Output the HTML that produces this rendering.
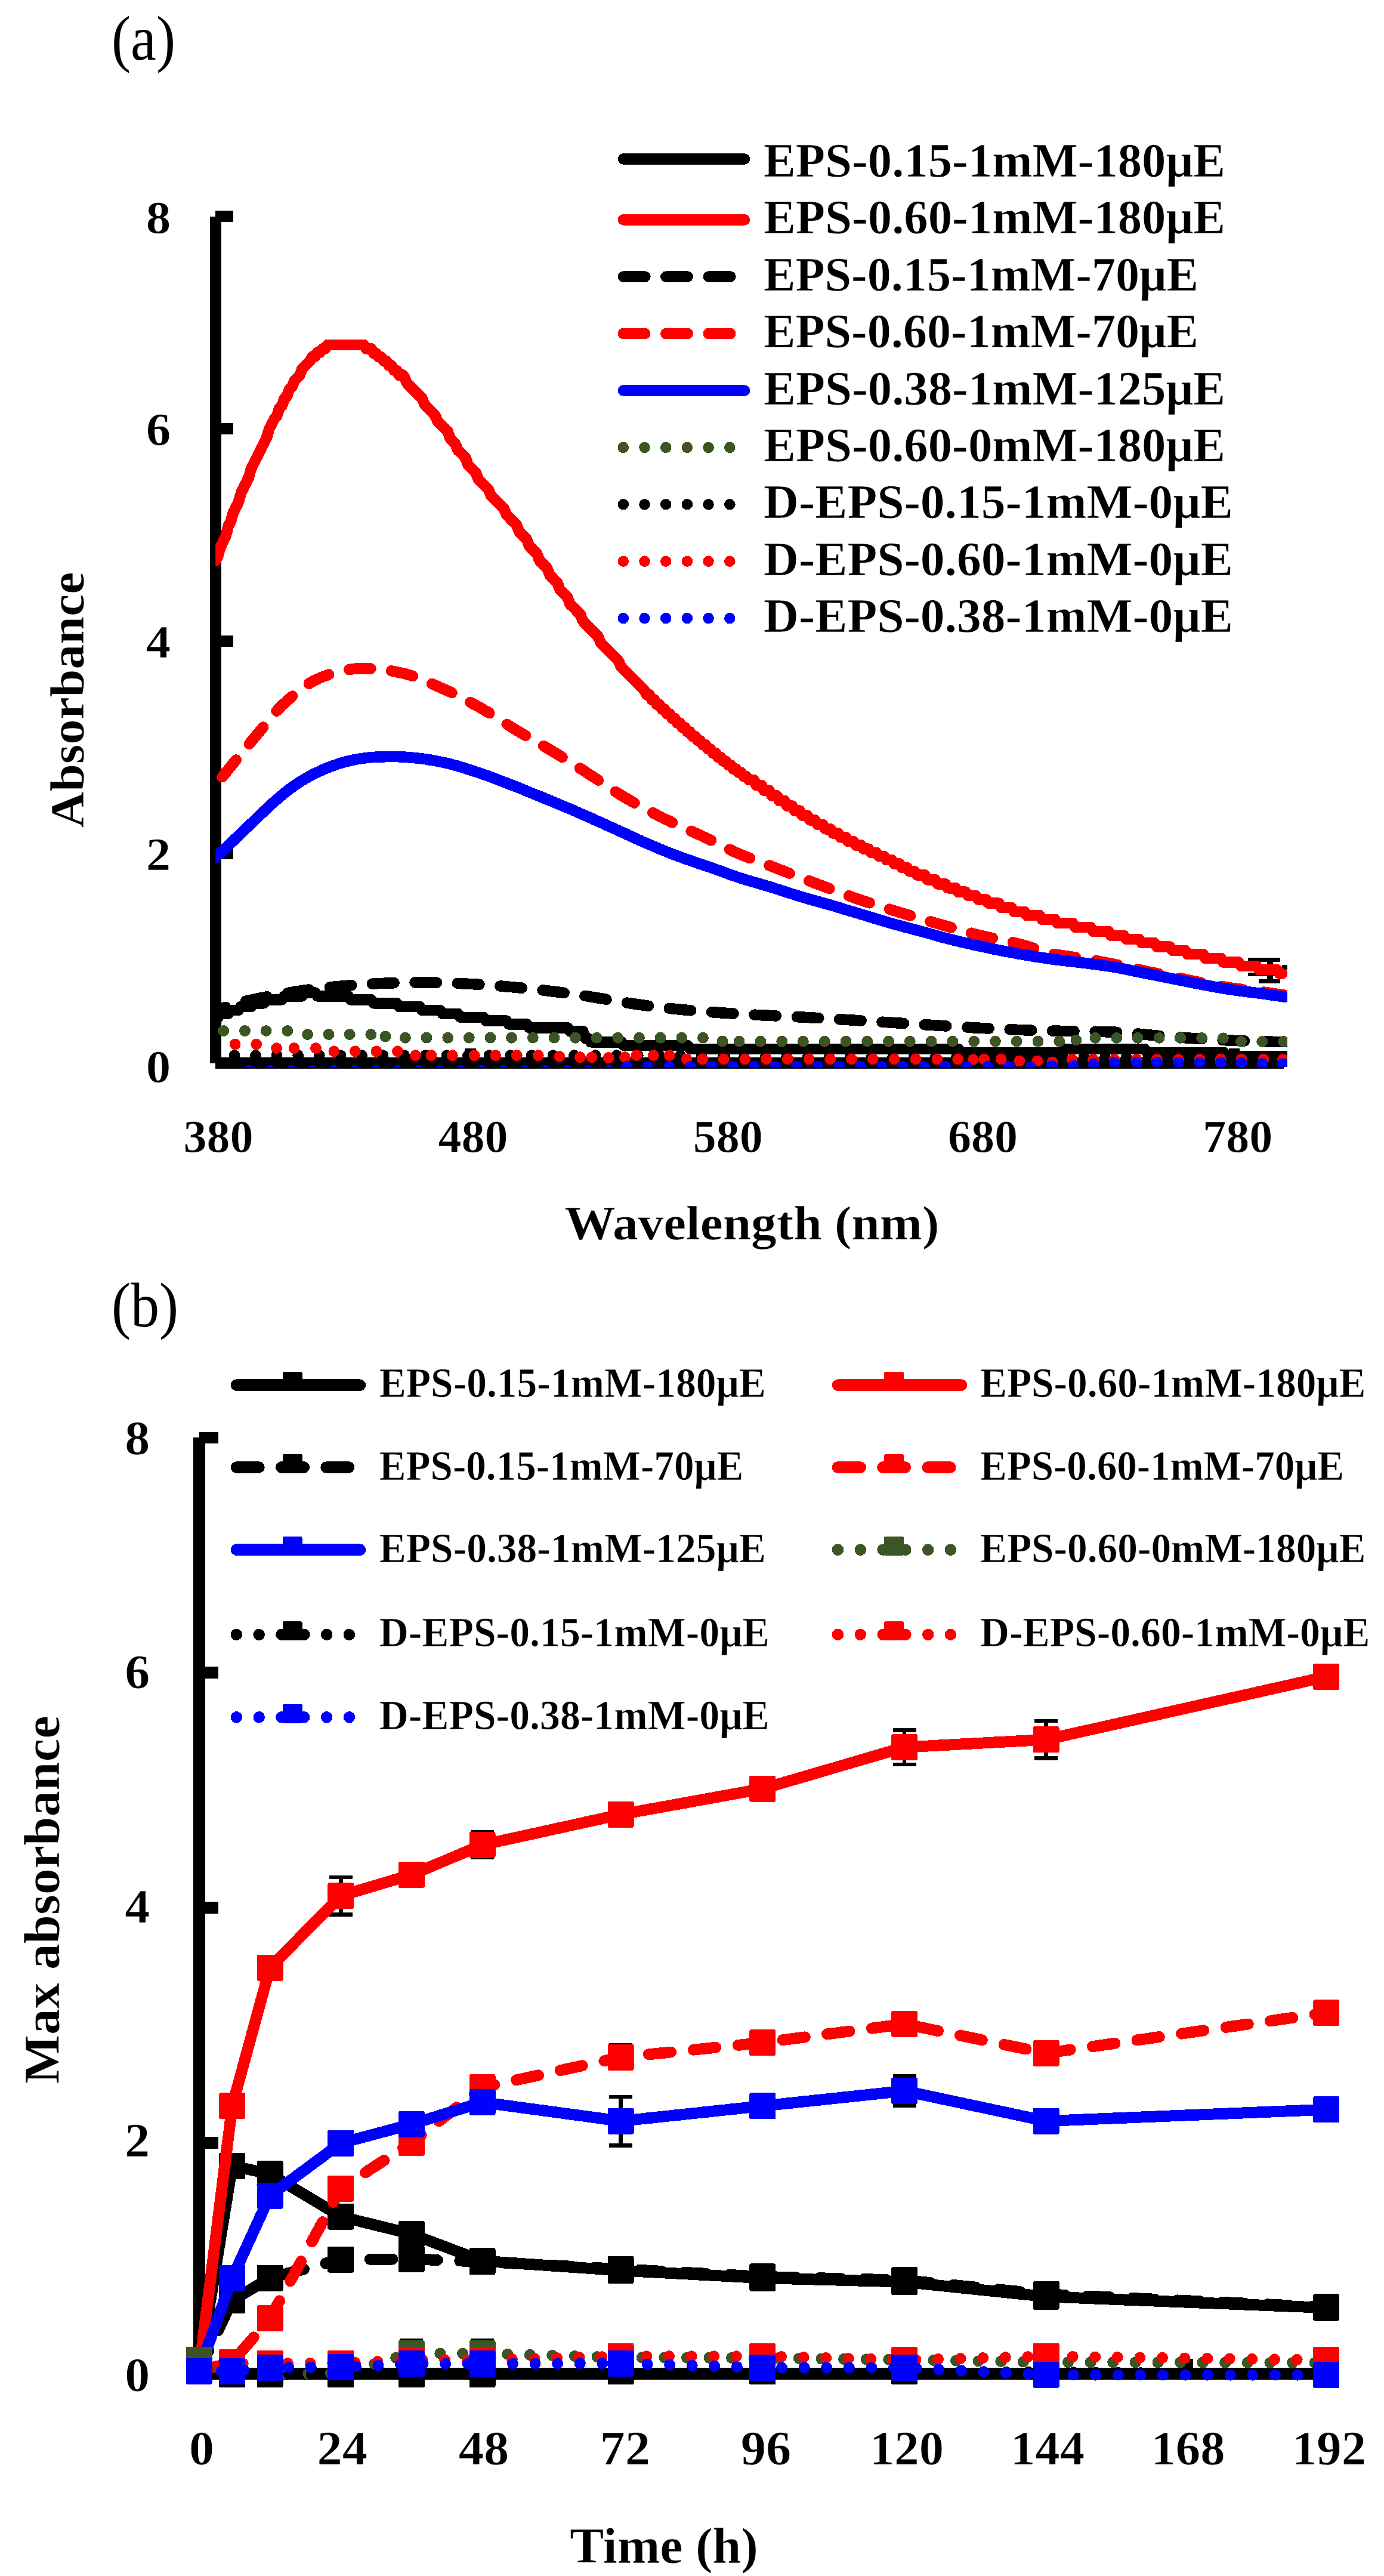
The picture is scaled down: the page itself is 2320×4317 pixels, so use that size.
<!DOCTYPE html>
<html><head><meta charset="utf-8"><title>Figure</title>
<style>html,body{margin:0;padding:0;background:#fff}svg{display:block}text{font-family:"Liberation Serif", "DejaVu Serif", serif;fill:#000}text[font-weight=bold]{stroke:#fff;stroke-width:0.6px;stroke-linejoin:round}</style>
</head><body>
<svg width="2320" height="4317" viewBox="0 0 2320 4317" shape-rendering="crispEdges">
<rect width="2320" height="4317" fill="#fff"/>
<defs><clipPath id="ca"><rect x="361.2" y="300" width="1796.8" height="1488.0"/></clipPath>
<clipPath id="cb"><rect x="300" y="2300" width="1980" height="1720"/></clipPath></defs>
<g stroke="#000" stroke-width="18.6" fill="none">
<path d="M361.3 362.6 V1781.6"/>
<path d="M361.3 1781.6 H2152"/>
<path d="M361.3 362.6 H391"/>
<path d="M361.3 718.6 H391"/>
<path d="M361.3 1074.6 H391"/>
<path d="M361.3 1430.6 H391"/>
<path d="M788.2 1781.6 V1757.3"/>
<path d="M1215.1 1781.6 V1757.3"/>
<path d="M1642.0 1781.6 V1757.3"/>
<path d="M2068.9 1781.6 V1757.3"/>
</g>
<g clip-path="url(#ca)" fill="none" stroke-linejoin="round" stroke-linecap="round">
<path stroke="#000000" stroke-width="18.6" d="M361.0 1704.8 L365.3 1704.8 L369.6 1698.9 L373.8 1698.9 L378.1 1698.9 L382.4 1698.9 L386.7 1693.0 L391.0 1693.0 L395.2 1693.0 L399.5 1693.0 L403.8 1687.1 L408.1 1687.1 L412.4 1687.1 L416.6 1687.1 L420.9 1687.1 L425.2 1681.2 L429.5 1681.2 L433.8 1681.2 L438.0 1681.2 L442.3 1681.2 L446.6 1675.3 L450.9 1675.3 L455.2 1675.3 L459.4 1675.3 L463.7 1675.3 L468.0 1675.3 L472.3 1675.3 L476.6 1669.4 L480.8 1669.4 L485.1 1669.4 L489.4 1669.4 L493.7 1669.4 L498.0 1669.4 L502.2 1669.4 L506.5 1669.4 L510.8 1663.5 L515.1 1663.5 L519.4 1663.5 L523.6 1663.5 L527.9 1663.5 L532.2 1669.4 L536.5 1669.4 L540.8 1669.4 L545.0 1669.4 L549.3 1669.4 L553.6 1669.4 L557.9 1669.4 L562.2 1669.4 L566.4 1669.4 L570.7 1669.4 L575.0 1669.4 L579.3 1669.4 L583.6 1669.4 L587.8 1675.3 L592.1 1675.3 L596.4 1675.3 L600.7 1675.3 L605.0 1675.3 L609.2 1675.3 L613.5 1675.3 L617.8 1675.3 L622.1 1675.3 L626.4 1681.2 L630.6 1681.2 L634.9 1681.2 L639.2 1681.2 L643.5 1681.2 L647.8 1681.2 L652.0 1681.2 L656.3 1681.2 L660.6 1681.2 L664.9 1681.2 L669.2 1687.1 L673.4 1687.1 L677.7 1687.1 L682.0 1687.1 L686.3 1687.1 L690.6 1687.1 L694.8 1687.1 L699.1 1687.1 L703.4 1687.1 L707.7 1693.0 L712.0 1693.0 L716.2 1693.0 L720.5 1693.0 L724.8 1693.0 L729.1 1693.0 L733.4 1693.0 L737.6 1693.0 L741.9 1698.9 L746.2 1698.9 L750.5 1698.9 L754.8 1698.9 L759.0 1698.9 L763.3 1698.9 L767.6 1698.9 L771.9 1704.8 L776.2 1704.8 L780.4 1704.8 L784.7 1704.8 L789.0 1704.8 L793.3 1704.8 L797.6 1704.8 L801.8 1704.8 L806.1 1704.8 L810.4 1704.8 L814.7 1710.7 L819.0 1710.7 L823.2 1710.7 L827.5 1710.7 L831.8 1710.7 L836.1 1710.7 L840.4 1710.7 L844.6 1710.7 L848.9 1710.7 L853.2 1716.6 L857.5 1716.6 L861.8 1716.6 L866.0 1716.6 L870.3 1716.6 L874.6 1716.6 L878.9 1716.6 L883.2 1716.6 L887.4 1722.5 L891.7 1722.5 L896.0 1722.5 L900.3 1722.5 L904.6 1722.5 L908.8 1722.5 L913.1 1722.5 L917.4 1722.5 L921.7 1722.5 L926.0 1722.5 L930.2 1722.5 L934.5 1722.5 L938.8 1722.5 L943.1 1722.5 L947.4 1722.5 L951.6 1722.5 L955.9 1728.4 L960.2 1728.4 L964.5 1728.4 L968.8 1728.4 L973.0 1728.4 L977.3 1728.4 L981.6 1740.3 L985.9 1740.3 L990.2 1746.2 L994.4 1746.2 L998.7 1746.2 L1003.0 1746.2 L1007.3 1746.2 L1011.6 1746.2 L1015.8 1746.2 L1020.1 1746.2 L1024.4 1746.2 L1028.7 1746.2 L1033.0 1746.2 L1037.2 1746.2 L1041.5 1746.2 L1045.8 1752.1 L1050.1 1752.1 L1054.4 1752.1 L1058.6 1752.1 L1062.9 1752.1 L1067.2 1752.1 L1071.5 1752.1 L1075.8 1752.1 L1080.0 1752.1 L1084.3 1752.1 L1088.6 1752.1 L1092.9 1752.1 L1097.2 1752.1 L1101.4 1752.1 L1105.7 1752.1 L1110.0 1752.1 L1114.3 1752.1 L1118.6 1752.1 L1122.8 1752.1 L1127.1 1752.1 L1131.4 1752.1 L1135.7 1752.1 L1140.0 1752.1 L1144.2 1752.1 L1148.5 1752.1 L1152.8 1752.1 L1157.1 1758.0 L1161.4 1758.0 L1165.6 1758.0 L1169.9 1758.0 L1174.2 1758.0 L1178.5 1758.0 L1182.8 1758.0 L1187.0 1758.0 L1191.3 1758.0 L1195.6 1758.0 L1199.9 1758.0 L1204.2 1758.0 L1208.4 1758.0 L1212.7 1758.0 L1217.0 1758.0 L1221.3 1758.0 L1225.6 1758.0 L1229.8 1758.0 L1234.1 1758.0 L1238.4 1758.0 L1242.7 1758.0 L1247.0 1758.0 L1251.2 1758.0 L1255.5 1758.0 L1259.8 1758.0 L1264.1 1758.0 L1268.4 1758.0 L1272.6 1758.0 L1276.9 1758.0 L1281.2 1758.0 L1285.5 1758.0 L1289.8 1758.0 L1294.0 1758.0 L1298.3 1758.0 L1302.6 1758.0 L1306.9 1758.0 L1311.2 1758.0 L1315.4 1758.0 L1319.7 1758.0 L1324.0 1758.0 L1328.3 1758.0 L1332.6 1758.0 L1336.8 1758.0 L1341.1 1758.0 L1345.4 1758.0 L1349.7 1758.0 L1354.0 1758.0 L1358.2 1758.0 L1362.5 1758.0 L1366.8 1758.0 L1371.1 1758.0 L1375.4 1758.0 L1379.6 1758.0 L1383.9 1758.0 L1388.2 1758.0 L1392.5 1758.0 L1396.8 1758.0 L1401.0 1758.0 L1405.3 1758.0 L1409.6 1758.0 L1413.9 1758.0 L1418.2 1758.0 L1422.4 1758.0 L1426.7 1758.0 L1431.0 1758.0 L1435.3 1758.0 L1439.6 1758.0 L1443.8 1758.0 L1448.1 1758.0 L1452.4 1758.0 L1456.7 1758.0 L1461.0 1758.0 L1465.2 1758.0 L1469.5 1758.0 L1473.8 1758.0 L1478.1 1758.0 L1482.4 1758.0 L1486.6 1758.0 L1490.9 1758.0 L1495.2 1758.0 L1499.5 1758.0 L1503.8 1758.0 L1508.0 1758.0 L1512.3 1758.0 L1516.6 1758.0 L1520.9 1758.0 L1525.2 1758.0 L1529.4 1758.0 L1533.7 1758.0 L1538.0 1758.0 L1542.3 1758.0 L1546.6 1758.0 L1550.8 1758.0 L1555.1 1758.0 L1559.4 1758.0 L1563.7 1758.0 L1568.0 1758.0 L1572.2 1758.0 L1576.5 1758.0 L1580.8 1758.0 L1585.1 1758.0 L1589.4 1758.0 L1593.6 1758.0 L1597.9 1758.0 L1602.2 1758.0 L1606.5 1758.0 L1610.8 1763.9 L1615.0 1763.9 L1619.3 1763.9 L1623.6 1763.9 L1627.9 1763.9 L1632.2 1763.9 L1636.4 1763.9 L1640.7 1763.9 L1645.0 1763.9 L1649.3 1763.9 L1653.6 1763.9 L1657.8 1763.9 L1662.1 1763.9 L1666.4 1763.9 L1670.7 1763.9 L1675.0 1763.9 L1679.2 1763.9 L1683.5 1763.9 L1687.8 1763.9 L1692.1 1763.9 L1696.4 1763.9 L1700.6 1763.9 L1704.9 1763.9 L1709.2 1763.9 L1713.5 1763.9 L1717.8 1763.9 L1722.0 1763.9 L1726.3 1763.9 L1730.6 1763.9 L1734.9 1763.9 L1739.2 1763.9 L1743.4 1763.9 L1747.7 1763.9 L1752.0 1763.9 L1756.3 1763.9 L1760.6 1763.9 L1764.8 1763.9 L1769.1 1763.9 L1773.4 1763.9 L1777.7 1763.9 L1782.0 1763.9 L1786.2 1758.0 L1790.5 1758.0 L1794.8 1758.0 L1799.1 1758.0 L1803.4 1758.0 L1807.6 1758.0 L1811.9 1758.0 L1816.2 1758.0 L1820.5 1758.0 L1824.8 1758.0 L1829.0 1758.0 L1833.3 1758.0 L1837.6 1758.0 L1841.9 1758.0 L1846.2 1758.0 L1850.4 1758.0 L1854.7 1758.0 L1859.0 1758.0 L1863.3 1758.0 L1867.6 1758.0 L1871.8 1758.0 L1876.1 1758.0 L1880.4 1758.0 L1884.7 1758.0 L1889.0 1758.0 L1893.2 1758.0 L1897.5 1758.0 L1901.8 1758.0 L1906.1 1758.0 L1910.4 1758.0 L1914.6 1758.0 L1918.9 1758.0 L1923.2 1763.9 L1927.5 1763.9 L1931.8 1763.9 L1936.0 1763.9 L1940.3 1763.9 L1944.6 1763.9 L1948.9 1763.9 L1953.2 1763.9 L1957.4 1763.9 L1961.7 1763.9 L1966.0 1763.9 L1970.3 1763.9 L1974.6 1763.9 L1978.8 1763.9 L1983.1 1763.9 L1987.4 1763.9 L1991.7 1763.9 L1996.0 1763.9 L2000.2 1763.9 L2004.5 1763.9 L2008.8 1763.9 L2013.1 1763.9 L2017.4 1763.9 L2021.6 1763.9 L2025.9 1763.9 L2030.2 1763.9 L2034.5 1763.9 L2038.8 1763.9 L2043.0 1763.9 L2047.3 1763.9 L2051.6 1763.9 L2055.9 1769.8 L2060.2 1769.8 L2064.4 1769.8 L2068.7 1769.8 L2073.0 1769.8 L2077.3 1769.8 L2081.6 1769.8 L2085.8 1769.8 L2090.1 1769.8 L2094.4 1769.8 L2098.7 1769.8 L2103.0 1769.8 L2107.2 1769.8 L2111.5 1769.8 L2115.8 1769.8 L2120.1 1769.8 L2124.4 1769.8 L2128.6 1769.8 L2132.9 1769.8 L2137.2 1769.8 L2141.5 1769.8 L2145.8 1769.8 L2153.0 1769.8"/>
<path stroke="#ff0000" stroke-width="18.6" d="M361.2 939.5 L365.5 931.0 L369.8 916.2 L374.0 907.6 L378.3 899.0 L382.6 881.9 L386.9 873.4 L391.1 858.6 L395.4 850.1 L399.7 841.5 L404.0 826.3 L408.2 817.8 L412.5 809.2 L416.8 800.7 L421.1 785.5 L425.4 776.9 L429.6 768.4 L433.9 759.8 L438.2 751.3 L442.5 742.7 L446.7 734.2 L451.0 719.4 L455.3 710.8 L459.6 702.3 L463.8 698.0 L468.1 684.6 L472.4 680.3 L476.7 668.2 L481.0 663.9 L485.2 652.2 L489.5 648.0 L493.8 637.5 L498.1 633.2 L502.3 629.0 L506.6 617.8 L510.9 613.5 L515.2 609.3 L519.4 605.0 L523.7 597.5 L528.0 597.5 L532.3 590.6 L536.6 590.6 L540.8 584.4 L545.1 584.4 L549.4 577.8 L553.7 577.8 L557.9 577.8 L562.2 577.8 L566.5 577.8 L570.8 577.8 L575.0 577.8 L579.3 577.8 L583.6 577.8 L587.9 577.8 L592.2 577.8 L596.4 577.8 L600.7 577.8 L605.0 577.8 L609.3 577.8 L613.5 584.2 L617.8 584.2 L622.1 584.2 L626.4 592.2 L630.7 592.2 L634.9 598.3 L639.2 598.3 L643.5 605.0 L647.8 605.0 L652.0 612.5 L656.3 612.5 L660.6 620.7 L664.9 620.7 L669.1 629.1 L673.4 627.4 L677.7 631.6 L682.0 642.0 L686.3 646.2 L690.5 650.5 L694.8 654.8 L699.1 659.1 L703.4 663.3 L707.6 667.6 L711.9 678.2 L716.2 682.5 L720.5 686.7 L724.7 691.0 L729.0 695.3 L733.3 705.7 L737.6 710.0 L741.9 714.2 L746.1 718.5 L750.4 722.8 L754.7 735.0 L759.0 739.3 L763.2 743.6 L767.5 754.4 L771.8 758.6 L776.1 762.9 L780.3 767.2 L784.6 779.2 L788.9 783.5 L793.2 787.7 L797.5 792.0 L801.7 803.0 L806.0 807.3 L810.3 811.6 L814.6 815.9 L818.8 820.1 L823.1 830.5 L827.4 834.8 L831.7 839.0 L835.9 843.3 L840.2 847.6 L844.5 851.9 L848.8 862.6 L853.1 866.9 L857.3 871.2 L861.6 875.4 L865.9 879.7 L870.2 891.2 L874.4 895.5 L878.7 899.8 L883.0 904.0 L887.3 915.2 L891.5 919.4 L895.8 923.7 L900.1 928.0 L904.4 939.4 L908.7 943.7 L912.9 948.0 L917.2 952.3 L921.5 963.6 L925.8 967.9 L930.0 972.2 L934.3 976.5 L938.6 988.2 L942.9 992.5 L947.1 996.8 L951.4 1001.1 L955.7 1012.6 L960.0 1016.8 L964.3 1021.1 L968.5 1025.4 L972.8 1029.7 L977.1 1041.0 L981.4 1045.3 L985.6 1049.6 L989.9 1053.8 L994.2 1058.1 L998.5 1062.4 L1002.7 1066.7 L1007.0 1077.5 L1011.3 1081.7 L1015.6 1086.0 L1019.9 1090.3 L1024.1 1094.6 L1028.4 1098.9 L1032.7 1103.1 L1037.0 1107.4 L1041.2 1117.9 L1045.5 1122.1 L1049.8 1126.4 L1054.1 1130.7 L1058.4 1135.0 L1062.6 1139.2 L1066.9 1143.5 L1071.2 1147.8 L1075.5 1152.1 L1079.7 1156.4 L1084.0 1164.2 L1088.3 1164.2 L1092.6 1172.5 L1096.8 1172.5 L1101.1 1180.6 L1105.4 1180.6 L1109.7 1188.6 L1114.0 1188.6 L1118.2 1196.4 L1122.5 1196.4 L1126.8 1204.0 L1131.1 1204.0 L1135.3 1211.6 L1139.6 1211.6 L1143.9 1219.1 L1148.2 1219.1 L1152.4 1226.5 L1156.7 1226.5 L1161.0 1233.9 L1165.3 1233.9 L1169.6 1241.1 L1173.8 1241.1 L1178.1 1248.2 L1182.4 1248.2 L1186.7 1255.3 L1190.9 1255.3 L1195.2 1262.2 L1199.5 1262.2 L1203.8 1269.0 L1208.0 1269.0 L1212.3 1275.6 L1216.6 1275.6 L1220.9 1282.2 L1225.2 1282.2 L1229.4 1288.6 L1233.7 1288.6 L1238.0 1294.8 L1242.3 1294.8 L1246.5 1301.0 L1250.8 1301.0 L1255.1 1307.0 L1259.4 1307.0 L1263.6 1307.0 L1267.9 1316.0 L1272.2 1316.0 L1276.5 1316.0 L1280.8 1324.7 L1285.0 1324.7 L1289.3 1324.7 L1293.6 1333.4 L1297.9 1333.4 L1302.1 1333.4 L1306.4 1342.0 L1310.7 1342.0 L1315.0 1342.0 L1319.2 1350.5 L1323.5 1350.5 L1327.8 1350.5 L1332.1 1358.7 L1336.4 1358.7 L1340.6 1358.7 L1344.9 1366.7 L1349.2 1366.7 L1353.5 1366.7 L1357.7 1374.4 L1362.0 1374.4 L1366.3 1374.4 L1370.6 1381.9 L1374.8 1381.9 L1379.1 1381.9 L1383.4 1389.2 L1387.7 1389.2 L1392.0 1389.2 L1396.2 1396.3 L1400.5 1396.3 L1404.8 1396.3 L1409.1 1403.2 L1413.3 1403.2 L1417.6 1403.2 L1421.9 1410.0 L1426.2 1410.0 L1430.4 1410.0 L1434.7 1416.5 L1439.0 1416.5 L1443.3 1416.5 L1447.6 1422.7 L1451.8 1422.7 L1456.1 1422.7 L1460.4 1428.9 L1464.7 1428.9 L1468.9 1428.9 L1473.2 1434.9 L1477.5 1434.9 L1481.8 1434.9 L1486.1 1441.1 L1490.3 1441.1 L1494.6 1441.1 L1498.9 1447.4 L1503.2 1447.4 L1507.4 1447.4 L1511.7 1453.8 L1516.0 1453.8 L1520.3 1453.8 L1524.5 1460.3 L1528.8 1460.3 L1533.1 1460.3 L1537.4 1466.5 L1541.7 1466.5 L1545.9 1466.5 L1550.2 1466.5 L1554.5 1474.2 L1558.8 1474.2 L1563.0 1474.2 L1567.3 1474.2 L1571.6 1481.4 L1575.9 1481.4 L1580.1 1481.4 L1584.4 1481.4 L1588.7 1488.2 L1593.0 1488.2 L1597.3 1488.2 L1601.5 1488.2 L1605.8 1494.7 L1610.1 1494.7 L1614.4 1494.7 L1618.6 1494.7 L1622.9 1501.1 L1627.2 1501.1 L1631.5 1501.1 L1635.7 1501.1 L1640.0 1507.5 L1644.3 1507.5 L1648.6 1507.5 L1652.9 1507.5 L1657.1 1513.7 L1661.4 1513.7 L1665.7 1513.7 L1670.0 1513.7 L1674.2 1513.7 L1678.5 1521.1 L1682.8 1521.1 L1687.1 1521.1 L1691.3 1521.1 L1695.6 1521.1 L1699.9 1527.8 L1704.2 1527.8 L1708.5 1527.8 L1712.7 1527.8 L1717.0 1527.8 L1721.3 1534.0 L1725.6 1534.0 L1729.8 1534.0 L1734.1 1534.0 L1738.4 1534.0 L1742.7 1534.0 L1746.9 1540.8 L1751.2 1540.8 L1755.5 1540.8 L1759.8 1540.8 L1764.1 1540.8 L1768.3 1540.8 L1772.6 1547.1 L1776.9 1547.1 L1781.2 1547.1 L1785.4 1547.1 L1789.7 1547.1 L1794.0 1547.1 L1798.3 1547.1 L1802.5 1554.0 L1806.8 1554.0 L1811.1 1554.0 L1815.4 1554.0 L1819.7 1554.0 L1823.9 1554.0 L1828.2 1554.0 L1832.5 1560.9 L1836.8 1560.9 L1841.0 1560.9 L1845.3 1560.9 L1849.6 1560.9 L1853.9 1560.9 L1858.1 1560.9 L1862.4 1567.8 L1866.7 1567.8 L1871.0 1567.8 L1875.3 1567.8 L1879.5 1567.8 L1883.8 1567.8 L1888.1 1573.9 L1892.4 1573.9 L1896.6 1573.9 L1900.9 1573.9 L1905.2 1573.9 L1909.5 1573.9 L1913.8 1580.1 L1918.0 1580.1 L1922.3 1580.1 L1926.6 1580.1 L1930.9 1580.1 L1935.1 1580.1 L1939.4 1586.5 L1943.7 1586.5 L1948.0 1586.5 L1952.2 1586.5 L1956.5 1586.5 L1960.8 1586.5 L1965.1 1592.8 L1969.4 1592.8 L1973.6 1592.8 L1977.9 1592.8 L1982.2 1592.8 L1986.5 1592.8 L1990.7 1598.9 L1995.0 1598.9 L1999.3 1598.9 L2003.6 1598.9 L2007.8 1598.9 L2012.1 1598.9 L2016.4 1598.9 L2020.7 1605.8 L2025.0 1605.8 L2029.2 1605.8 L2033.5 1605.8 L2037.8 1605.8 L2042.1 1605.8 L2046.3 1605.8 L2050.6 1612.5 L2054.9 1612.5 L2059.2 1612.5 L2063.4 1612.5 L2067.7 1612.5 L2072.0 1612.5 L2076.3 1612.5 L2080.6 1619.0 L2084.8 1619.0 L2089.1 1619.0 L2093.4 1619.0 L2097.7 1619.0 L2101.9 1619.0 L2106.2 1619.0 L2110.5 1625.1 L2114.8 1625.1 L2119.0 1625.1 L2123.3 1625.1 L2127.6 1625.1 L2131.9 1625.1 L2136.2 1625.1 L2140.4 1625.1 L2144.7 1631.6 L2149.0 1631.6"/>
<path stroke="#000000" stroke-width="18.6" stroke-dasharray="36.5 35" stroke-dashoffset="18" d="M361.0 1694.3 L369.0 1691.2 L377.0 1688.3 L385.0 1685.6 L393.0 1683.0 L401.0 1680.7 L409.0 1678.6 L417.0 1676.7 L425.0 1674.8 L433.0 1673.1 L441.0 1671.5 L449.0 1670.0 L457.0 1668.7 L465.0 1667.4 L473.0 1666.0 L481.0 1664.4 L489.0 1662.9 L497.0 1661.5 L505.0 1660.3 L513.0 1659.1 L521.0 1658.1 L529.0 1657.1 L537.0 1656.1 L545.0 1655.2 L553.0 1654.4 L561.0 1653.6 L569.0 1652.9 L577.0 1652.2 L585.0 1651.5 L593.0 1650.8 L601.0 1650.2 L609.0 1649.6 L617.0 1649.1 L625.0 1648.6 L633.0 1648.2 L641.0 1647.9 L649.0 1647.6 L657.0 1647.4 L665.0 1647.1 L673.0 1646.9 L681.0 1646.7 L689.0 1646.5 L697.0 1646.4 L705.0 1646.3 L713.0 1646.3 L721.0 1646.3 L729.0 1646.5 L737.0 1646.7 L745.0 1647.0 L753.0 1647.3 L761.0 1647.6 L769.0 1648.0 L777.0 1648.4 L785.0 1648.8 L793.0 1649.2 L801.0 1649.7 L809.0 1650.2 L817.0 1650.8 L825.0 1651.4 L833.0 1652.1 L841.0 1652.7 L849.0 1653.4 L857.0 1654.1 L865.0 1654.8 L873.0 1655.5 L881.0 1656.3 L889.0 1657.1 L897.0 1658.0 L905.0 1658.9 L913.0 1659.8 L921.0 1660.7 L929.0 1661.7 L937.0 1662.7 L945.0 1663.8 L953.0 1664.9 L961.0 1666.0 L969.0 1667.2 L977.0 1668.4 L985.0 1669.6 L993.0 1670.9 L1001.0 1672.2 L1009.0 1673.5 L1017.0 1675.0 L1025.0 1676.5 L1033.0 1677.9 L1041.0 1679.1 L1049.0 1680.3 L1057.0 1681.5 L1065.0 1682.6 L1073.0 1683.8 L1081.0 1684.9 L1089.0 1685.9 L1097.0 1686.9 L1105.0 1687.9 L1113.0 1688.9 L1121.0 1689.8 L1129.0 1690.6 L1137.0 1691.4 L1145.0 1692.2 L1153.0 1692.9 L1161.0 1693.6 L1169.0 1694.3 L1177.0 1694.9 L1185.0 1695.5 L1193.0 1696.1 L1201.0 1696.7 L1209.0 1697.3 L1217.0 1697.8 L1225.0 1698.3 L1233.0 1698.8 L1241.0 1699.3 L1249.0 1699.8 L1257.0 1700.3 L1265.0 1700.7 L1273.0 1701.1 L1281.0 1701.5 L1289.0 1701.8 L1297.0 1702.2 L1305.0 1702.6 L1313.0 1703.0 L1321.0 1703.4 L1329.0 1703.7 L1337.0 1704.2 L1345.0 1704.6 L1353.0 1705.0 L1361.0 1705.5 L1369.0 1705.9 L1377.0 1706.4 L1385.0 1706.9 L1393.0 1707.3 L1401.0 1707.8 L1409.0 1708.3 L1417.0 1708.8 L1425.0 1709.3 L1433.0 1709.8 L1441.0 1710.3 L1449.0 1710.8 L1457.0 1711.3 L1465.0 1711.8 L1473.0 1712.3 L1481.0 1712.8 L1489.0 1713.3 L1497.0 1713.9 L1505.0 1714.4 L1513.0 1714.9 L1521.0 1715.4 L1529.0 1715.9 L1537.0 1716.4 L1545.0 1716.9 L1553.0 1717.4 L1561.0 1717.9 L1569.0 1718.4 L1577.0 1718.9 L1585.0 1719.4 L1593.0 1719.9 L1601.0 1720.4 L1609.0 1720.9 L1617.0 1721.4 L1625.0 1721.8 L1633.0 1722.3 L1641.0 1722.7 L1649.0 1723.1 L1657.0 1723.5 L1665.0 1723.9 L1673.0 1724.3 L1681.0 1724.7 L1689.0 1725.0 L1697.0 1725.4 L1705.0 1725.8 L1713.0 1726.1 L1721.0 1726.4 L1729.0 1726.7 L1737.0 1726.9 L1745.0 1727.1 L1753.0 1727.3 L1761.0 1727.5 L1769.0 1727.7 L1777.0 1727.8 L1785.0 1727.9 L1793.0 1728.0 L1801.0 1728.2 L1809.0 1728.3 L1817.0 1728.4 L1825.0 1728.6 L1833.0 1728.7 L1841.0 1728.9 L1849.0 1729.1 L1857.0 1729.3 L1865.0 1729.6 L1873.0 1729.9 L1881.0 1730.4 L1889.0 1730.9 L1897.0 1731.6 L1905.0 1732.3 L1913.0 1733.1 L1921.0 1733.8 L1929.0 1734.6 L1937.0 1735.4 L1945.0 1736.1 L1953.0 1736.8 L1961.0 1737.4 L1969.0 1738.0 L1977.0 1738.6 L1985.0 1739.1 L1993.0 1739.6 L2001.0 1740.2 L2009.0 1740.7 L2017.0 1741.2 L2025.0 1741.7 L2033.0 1742.1 L2041.0 1742.6 L2049.0 1743.0 L2057.0 1743.3 L2065.0 1743.7 L2073.0 1744.0 L2081.0 1744.3 L2089.0 1744.5 L2097.0 1744.8 L2105.0 1745.1 L2113.0 1745.3 L2121.0 1745.5 L2129.0 1745.7 L2137.0 1745.9 L2145.0 1746.1 L2153.0 1746.2"/>
<path stroke="#ff0000" stroke-width="18.6" stroke-dasharray="36.5 35" stroke-dashoffset="-19" d="M361.0 1317.0 L369.0 1306.6 L377.0 1296.5 L385.0 1286.6 L393.0 1276.8 L401.0 1267.0 L409.0 1257.3 L417.0 1247.7 L425.0 1238.1 L433.0 1228.6 L441.0 1218.9 L449.0 1209.0 L457.0 1199.3 L465.0 1190.1 L473.0 1181.8 L481.0 1174.5 L489.0 1167.5 L497.0 1160.8 L505.0 1154.5 L513.0 1148.8 L521.0 1143.7 L529.0 1139.4 L537.0 1135.8 L545.0 1132.6 L553.0 1129.8 L561.0 1127.3 L569.0 1125.2 L577.0 1123.6 L585.0 1122.1 L593.0 1120.9 L601.0 1120.2 L609.0 1120.2 L617.0 1120.3 L625.0 1120.5 L633.0 1120.9 L641.0 1121.8 L649.0 1123.0 L657.0 1124.5 L665.0 1126.1 L673.0 1127.8 L681.0 1129.7 L689.0 1132.1 L697.0 1134.8 L705.0 1137.9 L713.0 1141.2 L721.0 1144.6 L729.0 1148.2 L737.0 1151.7 L745.0 1155.2 L753.0 1158.9 L761.0 1162.7 L769.0 1166.7 L777.0 1170.8 L785.0 1175.0 L793.0 1179.4 L801.0 1183.8 L809.0 1188.3 L817.0 1193.0 L825.0 1198.0 L833.0 1203.0 L841.0 1208.2 L849.0 1213.3 L857.0 1218.4 L865.0 1223.3 L873.0 1228.1 L881.0 1232.7 L889.0 1237.4 L897.0 1242.0 L905.0 1246.6 L913.0 1251.2 L921.0 1255.9 L929.0 1260.7 L937.0 1265.6 L945.0 1270.5 L953.0 1275.5 L961.0 1280.5 L969.0 1285.5 L977.0 1290.6 L985.0 1295.8 L993.0 1301.0 L1001.0 1306.3 L1009.0 1311.7 L1017.0 1317.2 L1025.0 1322.5 L1033.0 1327.7 L1041.0 1332.6 L1049.0 1337.3 L1057.0 1341.9 L1065.0 1346.5 L1073.0 1350.9 L1081.0 1355.2 L1089.0 1359.4 L1097.0 1363.6 L1105.0 1367.7 L1113.0 1371.7 L1121.0 1375.6 L1129.0 1379.3 L1137.0 1383.0 L1145.0 1386.6 L1153.0 1390.2 L1161.0 1393.8 L1169.0 1397.5 L1177.0 1401.2 L1185.0 1405.0 L1193.0 1408.9 L1201.0 1412.9 L1209.0 1416.9 L1217.0 1420.8 L1225.0 1424.6 L1233.0 1428.3 L1241.0 1431.8 L1249.0 1435.1 L1257.0 1438.3 L1265.0 1441.4 L1273.0 1444.4 L1281.0 1447.4 L1289.0 1450.3 L1297.0 1453.3 L1305.0 1456.4 L1313.0 1459.5 L1321.0 1462.6 L1329.0 1465.7 L1337.0 1468.8 L1345.0 1471.9 L1353.0 1475.0 L1361.0 1478.0 L1369.0 1481.1 L1377.0 1484.1 L1385.0 1487.1 L1393.0 1490.2 L1401.0 1493.2 L1409.0 1496.2 L1417.0 1499.2 L1425.0 1502.1 L1433.0 1504.9 L1441.0 1507.7 L1449.0 1510.4 L1457.0 1513.0 L1465.0 1515.6 L1473.0 1518.1 L1481.0 1520.6 L1489.0 1523.1 L1497.0 1525.6 L1505.0 1528.0 L1513.0 1530.5 L1521.0 1532.9 L1529.0 1535.3 L1537.0 1537.7 L1545.0 1540.1 L1553.0 1542.5 L1561.0 1544.8 L1569.0 1547.1 L1577.0 1549.4 L1585.0 1551.7 L1593.0 1554.0 L1601.0 1556.3 L1609.0 1558.5 L1617.0 1560.7 L1625.0 1562.9 L1633.0 1565.0 L1641.0 1567.1 L1649.0 1569.0 L1657.0 1570.8 L1665.0 1572.5 L1673.0 1574.2 L1681.0 1575.8 L1689.0 1577.5 L1697.0 1579.2 L1705.0 1581.1 L1713.0 1583.1 L1721.0 1585.4 L1729.0 1588.0 L1737.0 1590.7 L1745.0 1593.4 L1753.0 1595.8 L1761.0 1597.8 L1769.0 1599.4 L1777.0 1600.7 L1785.0 1601.9 L1793.0 1603.0 L1801.0 1604.2 L1809.0 1605.4 L1817.0 1606.7 L1825.0 1608.0 L1833.0 1609.4 L1841.0 1610.8 L1849.0 1612.3 L1857.0 1613.7 L1865.0 1615.3 L1873.0 1616.9 L1881.0 1618.7 L1889.0 1620.5 L1897.0 1622.3 L1905.0 1624.0 L1913.0 1625.8 L1921.0 1627.5 L1929.0 1629.1 L1937.0 1630.8 L1945.0 1632.5 L1953.0 1634.1 L1961.0 1635.8 L1969.0 1637.4 L1977.0 1639.1 L1985.0 1640.8 L1993.0 1642.6 L2001.0 1644.2 L2009.0 1645.8 L2017.0 1647.4 L2025.0 1648.9 L2033.0 1650.3 L2041.0 1651.7 L2049.0 1653.1 L2057.0 1654.4 L2065.0 1655.7 L2073.0 1656.8 L2081.0 1657.9 L2089.0 1658.9 L2097.0 1659.8 L2105.0 1660.8 L2113.0 1661.9 L2121.0 1663.0 L2129.0 1664.1 L2137.0 1665.3 L2145.0 1666.5 L2153.0 1667.7"/>
<path stroke="#0000ff" stroke-width="18.6" d="M361.0 1437.3 L369.0 1429.8 L377.0 1422.3 L385.0 1414.7 L393.0 1407.1 L401.0 1399.4 L409.0 1391.7 L417.0 1384.0 L425.0 1376.3 L433.0 1368.6 L441.0 1361.0 L449.0 1353.4 L457.0 1346.0 L465.0 1339.0 L473.0 1332.2 L481.0 1325.7 L489.0 1319.7 L497.0 1314.2 L505.0 1308.9 L513.0 1304.1 L521.0 1299.7 L529.0 1295.6 L537.0 1291.8 L545.0 1288.4 L553.0 1285.2 L561.0 1282.2 L569.0 1279.5 L577.0 1277.2 L585.0 1275.2 L593.0 1273.4 L601.0 1271.9 L609.0 1270.8 L617.0 1269.8 L625.0 1269.0 L633.0 1268.5 L641.0 1268.3 L649.0 1268.1 L657.0 1268.0 L665.0 1268.1 L673.0 1268.4 L681.0 1268.9 L689.0 1269.6 L697.0 1270.3 L705.0 1271.1 L713.0 1272.2 L721.0 1273.5 L729.0 1274.9 L737.0 1276.5 L745.0 1278.1 L753.0 1279.9 L761.0 1282.0 L769.0 1284.3 L777.0 1286.7 L785.0 1289.3 L793.0 1291.9 L801.0 1294.5 L809.0 1297.2 L817.0 1300.1 L825.0 1303.0 L833.0 1306.1 L841.0 1309.1 L849.0 1312.1 L857.0 1315.3 L865.0 1318.4 L873.0 1321.6 L881.0 1324.9 L889.0 1328.2 L897.0 1331.4 L905.0 1334.7 L913.0 1337.9 L921.0 1341.2 L929.0 1344.5 L937.0 1347.8 L945.0 1351.2 L953.0 1354.6 L961.0 1358.0 L969.0 1361.5 L977.0 1365.0 L985.0 1368.6 L993.0 1372.1 L1001.0 1375.7 L1009.0 1379.3 L1017.0 1382.9 L1025.0 1386.6 L1033.0 1390.2 L1041.0 1393.9 L1049.0 1397.5 L1057.0 1401.2 L1065.0 1404.9 L1073.0 1408.5 L1081.0 1412.1 L1089.0 1415.6 L1097.0 1419.0 L1105.0 1422.3 L1113.0 1425.6 L1121.0 1428.8 L1129.0 1431.9 L1137.0 1434.9 L1145.0 1437.9 L1153.0 1440.7 L1161.0 1443.5 L1169.0 1446.2 L1177.0 1448.9 L1185.0 1451.6 L1193.0 1454.4 L1201.0 1457.2 L1209.0 1460.1 L1217.0 1463.1 L1225.0 1466.0 L1233.0 1468.8 L1241.0 1471.5 L1249.0 1474.0 L1257.0 1476.4 L1265.0 1478.8 L1273.0 1481.1 L1281.0 1483.4 L1289.0 1485.8 L1297.0 1488.2 L1305.0 1490.8 L1313.0 1493.4 L1321.0 1495.9 L1329.0 1498.5 L1337.0 1501.0 L1345.0 1503.4 L1353.0 1505.8 L1361.0 1508.0 L1369.0 1510.3 L1377.0 1512.5 L1385.0 1514.7 L1393.0 1517.0 L1401.0 1519.4 L1409.0 1521.7 L1417.0 1524.2 L1425.0 1526.6 L1433.0 1529.0 L1441.0 1531.4 L1449.0 1533.8 L1457.0 1536.3 L1465.0 1538.7 L1473.0 1541.1 L1481.0 1543.5 L1489.0 1545.9 L1497.0 1548.2 L1505.0 1550.4 L1513.0 1552.5 L1521.0 1554.7 L1529.0 1556.8 L1537.0 1558.9 L1545.0 1561.0 L1553.0 1563.2 L1561.0 1565.5 L1569.0 1567.7 L1577.0 1570.0 L1585.0 1572.2 L1593.0 1574.2 L1601.0 1576.2 L1609.0 1578.1 L1617.0 1580.0 L1625.0 1581.8 L1633.0 1583.6 L1641.0 1585.3 L1649.0 1587.0 L1657.0 1588.7 L1665.0 1590.4 L1673.0 1592.0 L1681.0 1593.6 L1689.0 1595.1 L1697.0 1596.6 L1705.0 1598.0 L1713.0 1599.4 L1721.0 1600.8 L1729.0 1602.2 L1737.0 1603.5 L1745.0 1604.7 L1753.0 1605.9 L1761.0 1607.1 L1769.0 1608.1 L1777.0 1609.1 L1785.0 1610.0 L1793.0 1610.9 L1801.0 1611.9 L1809.0 1612.8 L1817.0 1613.8 L1825.0 1614.8 L1833.0 1615.8 L1841.0 1616.8 L1849.0 1617.9 L1857.0 1619.0 L1865.0 1620.2 L1873.0 1621.6 L1881.0 1623.2 L1889.0 1624.8 L1897.0 1626.5 L1905.0 1628.2 L1913.0 1629.8 L1921.0 1631.4 L1929.0 1633.0 L1937.0 1634.5 L1945.0 1636.1 L1953.0 1637.7 L1961.0 1639.3 L1969.0 1640.9 L1977.0 1642.5 L1985.0 1644.1 L1993.0 1645.7 L2001.0 1647.3 L2009.0 1648.9 L2017.0 1650.4 L2025.0 1651.8 L2033.0 1653.3 L2041.0 1654.7 L2049.0 1656.1 L2057.0 1657.4 L2065.0 1658.7 L2073.0 1659.8 L2081.0 1660.9 L2089.0 1661.9 L2097.0 1662.9 L2105.0 1663.9 L2113.0 1664.9 L2121.0 1666.0 L2129.0 1667.1 L2137.0 1668.3 L2145.0 1669.4 L2153.0 1670.6"/>
<path fill="#000000" stroke="none" d="M2092 1605h54v7h-54z M2092 1630h54v6h-54z M2110 1641.3h36v6.6h-36z M2124 1605h10v43h-10z M2149 1617h9v8h-9z"/>
<path stroke="#ff0000" stroke-width="18.6" d="M2072.0 1612.5 L2076.3 1612.5 L2080.6 1619.0 L2084.8 1619.0 L2089.1 1619.0 L2093.4 1619.0 L2097.7 1619.0 L2101.9 1619.0 L2106.2 1619.0 L2110.5 1625.1 L2114.8 1625.1 L2119.0 1625.1 L2123.3 1625.1 L2127.6 1625.1 L2131.9 1625.1 L2136.2 1625.1 L2140.4 1625.1 L2144.7 1631.6 L2149.0 1631.6"/>
<path stroke="#3b5524" stroke-width="18.8" d="M374.7 1727.5h0M410.5 1727.5h0M446.2 1727.5h0M481.8 1727.5h0M515.6 1733.6h0M551.1 1733.6h0M586.2 1733.6h0M621.8 1733.6h0M646.1 1737.0h0M679.4 1739.2h0M715.0 1739.2h0M750.7 1739.2h0M786.3 1739.2h0M822.0 1739.2h0M857.6 1739.2h0M893.3 1739.2h0M928.9 1739.2h0M964.5 1739.2h0M1000.2 1739.2h0M1035.8 1739.2h0M1071.5 1739.2h0M1107.1 1739.2h0M1142.8 1739.2h0M1178.4 1739.2h0M1211.0 1744.9h0M1239.1 1745.2h0M1274.9 1745.2h0M1310.7 1745.2h0M1346.4 1745.2h0M1382.2 1745.2h0M1418.0 1745.2h0M1453.8 1745.2h0M1489.6 1745.2h0M1525.3 1745.2h0M1561.1 1745.2h0M1596.9 1745.2h0M1632.7 1745.2h0M1668.5 1745.2h0M1704.2 1745.2h0M1740.0 1745.2h0M1775.8 1745.2h0M1803.9 1742.9h0M1836.1 1739.4h0M1871.8 1739.4h0M1907.1 1739.4h0M1943.2 1739.4h0M1978.9 1739.4h0M2014.6 1739.4h0M2050.4 1739.8h0M2080.5 1745.5h0M2115.7 1745.5h0M2151.6 1745.5h0"/>
<path stroke="#000000" stroke-width="18.8" d="M392.9 1768.7h0M428.5 1768.7h0M464.1 1768.7h0M499.7 1768.7h0M535.3 1768.7h0M570.9 1768.7h0M606.5 1768.7h0M642.1 1768.7h0M677.7 1768.7h0M713.3 1768.7h0M748.9 1768.7h0M784.5 1768.7h0M820.1 1768.7h0M855.7 1768.7h0M891.3 1768.7h0M926.9 1768.7h0M962.5 1768.7h0M998.1 1768.7h0M1033.7 1768.7h0M1069.3 1768.7h0M1104.9 1768.7h0M1140.5 1768.7h0M1176.1 1768.7h0M1211.7 1772.0h0M1247.3 1772.0h0M1282.9 1772.0h0M1318.5 1772.0h0M1354.1 1772.0h0M1389.7 1772.0h0M1425.3 1772.0h0M1460.9 1772.0h0M1496.5 1772.0h0M1532.1 1772.0h0M1567.7 1772.0h0M1603.3 1772.0h0M1638.9 1772.0h0M1674.5 1772.0h0M1710.1 1772.0h0M1745.7 1772.0h0M1781.3 1772.0h0M1816.9 1772.0h0M1852.5 1772.0h0M1888.1 1772.0h0M1923.7 1775.5h0M1959.3 1775.5h0M1994.9 1775.5h0M2030.5 1775.5h0M2066.1 1775.5h0M2101.7 1775.5h0M2137.3 1775.5h0"/>
<path stroke="#ff0000" stroke-width="18.8" d="M394.2 1750.0h0M429.7 1750.0h0M463.6 1756.6h0M493.0 1756.6h0M529.4 1756.6h0M559.8 1761.8h0M595.3 1761.8h0M630.9 1761.8h0M666.4 1761.8h0M696.4 1768.7h0M722.8 1768.7h0M758.3 1768.7h0M795.2 1768.7h0M830.7 1768.7h0M866.3 1768.7h0M902.3 1768.7h0M937.8 1770.5h0M972.5 1771.7h0M992.0 1771.7h0M1020.2 1772.5h0M1047.5 1771.7h0M1067.0 1768.7h0M1095.2 1768.7h0M1122.1 1768.7h0M1151.1 1774.8h0M1177.6 1774.8h0M1213.1 1774.8h0M1248.8 1774.8h0M1284.6 1774.8h0M1320.3 1774.8h0M1356.1 1774.8h0M1391.8 1774.8h0M1427.6 1774.8h0M1463.3 1774.8h0M1499.1 1774.8h0M1534.8 1774.8h0M1570.9 1775.0h0M1605.7 1775.0h0M1631.3 1775.5h0M1649.5 1775.0h0M1678.2 1775.0h0M1708.8 1778.0h0M1738.8 1778.0h0M1763.9 1779.8h0M1796.8 1775.4h0M1832.5 1775.4h0M1868.2 1775.4h0M1905.4 1775.4h0M1939.3 1775.4h0M1975.4 1775.4h0M2011.1 1775.4h0M2046.4 1775.0h0M2081.0 1775.0h0M2118.0 1775.0h0M2150.4 1775.5h0"/>
<path stroke="#0000ff" stroke-width="18.8" d="M417.2 1794.3h0M452.8 1794.3h0M488.3 1794.3h0M523.9 1794.3h0M559.4 1794.3h0M595.0 1794.3h0M630.5 1794.3h0M666.1 1794.3h0M701.6 1794.3h0M737.2 1794.3h0M772.7 1794.3h0M808.3 1794.3h0M843.8 1794.3h0M879.4 1794.3h0M914.9 1794.3h0M950.5 1794.3h0M986.0 1794.3h0M1021.6 1794.3h0M1050.6 1787.5h0M1086.2 1787.5h0M1121.8 1787.5h0M1157.4 1787.5h0M1193.1 1787.5h0M1228.7 1787.5h0M1264.3 1787.5h0M1299.9 1787.5h0M1335.5 1787.5h0M1371.1 1787.5h0M1406.8 1787.5h0M1442.4 1787.5h0M1478.0 1787.5h0M1513.6 1787.5h0M1549.2 1787.5h0M1584.8 1787.5h0M1620.5 1787.5h0M1656.1 1787.5h0M1691.7 1787.5h0M1727.3 1787.5h0M1763.4 1786.0h0M1799.1 1786.0h0M1833.6 1783.4h0M1868.2 1780.7h0M1905.4 1780.4h0M1939.3 1780.4h0M1975.4 1780.4h0M2011.1 1780.4h0M2046.4 1780.5h0M2081.0 1781.0h0M2115.7 1782.5h0M2150.4 1782.5h0"/>
</g>
<text x="265.5" y="390.6" font-size="79" text-anchor="middle" font-weight="bold" textLength="41.5" lengthAdjust="spacingAndGlyphs">8</text>
<text x="265.5" y="746.4" font-size="79" text-anchor="middle" font-weight="bold" textLength="41.5" lengthAdjust="spacingAndGlyphs">6</text>
<text x="265.5" y="1102.2" font-size="79" text-anchor="middle" font-weight="bold" textLength="41.5" lengthAdjust="spacingAndGlyphs">4</text>
<text x="265.5" y="1458.0" font-size="79" text-anchor="middle" font-weight="bold" textLength="41.5" lengthAdjust="spacingAndGlyphs">2</text>
<text x="265.5" y="1813.8" font-size="79" text-anchor="middle" font-weight="bold" textLength="41.5" lengthAdjust="spacingAndGlyphs">0</text>
<text x="365.9" y="1931.0" font-size="79" text-anchor="middle" font-weight="bold" textLength="117.0" lengthAdjust="spacingAndGlyphs">380</text>
<text x="793.1" y="1931.0" font-size="79" text-anchor="middle" font-weight="bold" textLength="117.0" lengthAdjust="spacingAndGlyphs">480</text>
<text x="1220.3" y="1931.0" font-size="79" text-anchor="middle" font-weight="bold" textLength="117.0" lengthAdjust="spacingAndGlyphs">580</text>
<text x="1647.5" y="1931.0" font-size="79" text-anchor="middle" font-weight="bold" textLength="117.0" lengthAdjust="spacingAndGlyphs">680</text>
<text x="2074.7" y="1931.0" font-size="79" text-anchor="middle" font-weight="bold" textLength="117.0" lengthAdjust="spacingAndGlyphs">780</text>
<text x="140.3" y="1173.0" font-size="80" text-anchor="middle" font-weight="bold" textLength="429.0" lengthAdjust="spacingAndGlyphs" transform="rotate(-90 140.3 1173.0)">Absorbance</text>
<text x="1260.3" y="2077.0" font-size="80" text-anchor="middle" font-weight="bold" textLength="628.0" lengthAdjust="spacingAndGlyphs">Wavelength (nm)</text>
<text x="187.0" y="99.5" font-size="106" text-anchor="start" textLength="107.0" lengthAdjust="spacingAndGlyphs">(a)</text>
<g fill="none" stroke-linecap="round" stroke-width="18.5">
<path stroke="#000000" d="M1044.8 266.5 H1248"/>
<path stroke="#ff0000" d="M1044.8 368.3 H1248"/>
<path stroke="#000000" stroke-dasharray="36.5 35" d="M1044.8 463.7 H1248"/>
<path stroke="#ff0000" stroke-dasharray="36.5 35" d="M1044.8 559.1 H1248"/>
<path stroke="#0000ff" d="M1044.8 654.5 H1248"/>
<path stroke="#3b5524" stroke-dasharray="0 35.7" d="M1044.8 749.9 H1248"/>
<path stroke="#000000" stroke-dasharray="0 35.7" d="M1044.8 845.3 H1248"/>
<path stroke="#ff0000" stroke-dasharray="0 35.7" d="M1044.8 940.7 H1248"/>
<path stroke="#0000ff" stroke-dasharray="0 35.7" d="M1044.8 1036.1 H1248"/>
</g>
<text x="1280.0" y="295.9" font-size="80" text-anchor="start" font-weight="bold" textLength="774.0" lengthAdjust="spacingAndGlyphs">EPS-0.15-1mM-180μE</text>
<text x="1280.0" y="391.3" font-size="80" text-anchor="start" font-weight="bold" textLength="774.0" lengthAdjust="spacingAndGlyphs">EPS-0.60-1mM-180μE</text>
<text x="1280.0" y="486.7" font-size="80" text-anchor="start" font-weight="bold" textLength="729.0" lengthAdjust="spacingAndGlyphs">EPS-0.15-1mM-70μE</text>
<text x="1280.0" y="582.1" font-size="80" text-anchor="start" font-weight="bold" textLength="729.0" lengthAdjust="spacingAndGlyphs">EPS-0.60-1mM-70μE</text>
<text x="1280.0" y="677.5" font-size="80" text-anchor="start" font-weight="bold" textLength="774.0" lengthAdjust="spacingAndGlyphs">EPS-0.38-1mM-125μE</text>
<text x="1280.0" y="772.9" font-size="80" text-anchor="start" font-weight="bold" textLength="774.0" lengthAdjust="spacingAndGlyphs">EPS-0.60-0mM-180μE</text>
<text x="1280.0" y="868.3" font-size="80" text-anchor="start" font-weight="bold" textLength="787.0" lengthAdjust="spacingAndGlyphs">D-EPS-0.15-1mM-0μE</text>
<text x="1280.0" y="963.7" font-size="80" text-anchor="start" font-weight="bold" textLength="787.0" lengthAdjust="spacingAndGlyphs">D-EPS-0.60-1mM-0μE</text>
<text x="1280.0" y="1059.1" font-size="80" text-anchor="start" font-weight="bold" textLength="787.0" lengthAdjust="spacingAndGlyphs">D-EPS-0.38-1mM-0μE</text>
<g stroke="#000" stroke-width="19.5" fill="none">
<path d="M334.0 2409.4 V3978.2"/>
<path d="M334.0 3978.2 H2222"/>
<path d="M334.0 2409.4 H366"/>
<path d="M334.0 2803.2 H366"/>
<path d="M334.0 3197.0 H366"/>
<path d="M334.0 3590.8 H366"/>
</g>
<g stroke="#000" stroke-width="19.5" fill="none">
<path d="M571.3 3978.2 V3952.6"/>
<path d="M808.5 3978.2 V3952.6"/>
<path d="M1040.5 3978.2 V3952.6"/>
<path d="M1278.3 3978.2 V3952.6"/>
<path d="M1516.2 3978.2 V3952.6"/>
<path d="M1753.6 3978.2 V3952.6"/>
<path d="M1990.5 3978.2 V3952.6"/>
<path d="M2223.1 3978.2 V3952.6"/>
</g>
<g clip-path="url(#cb)" stroke-linejoin="round" stroke-linecap="round">
<path fill="none" stroke="#000000" stroke-width="19" d="M333.5 3973.9 L389.3 3629.7 L452.5 3643.3 L571.3 3714.6 L689.7 3743.9 L808.5 3789.0 L1040.5 3805.0 L1278.3 3817.7 L1516.2 3824.1 L1753.6 3848.8 L2223.1 3867.5"/>
<rect x="314.5" y="3954.9" width="38" height="38" fill="#000000" stroke="#000000" stroke-width="6"/>
<rect x="370.3" y="3610.7" width="38" height="38" fill="#000000" stroke="#000000" stroke-width="6"/>
<rect x="433.5" y="3624.3" width="38" height="38" fill="#000000" stroke="#000000" stroke-width="6"/>
<rect x="552.3" y="3695.6" width="38" height="38" fill="#000000" stroke="#000000" stroke-width="6"/>
<rect x="670.7" y="3724.9" width="38" height="38" fill="#000000" stroke="#000000" stroke-width="6"/>
<rect x="789.5" y="3770.0" width="38" height="38" fill="#000000" stroke="#000000" stroke-width="6"/>
<rect x="1021.5" y="3786.0" width="38" height="38" fill="#000000" stroke="#000000" stroke-width="6"/>
<rect x="1259.3" y="3798.7" width="38" height="38" fill="#000000" stroke="#000000" stroke-width="6"/>
<rect x="1497.2" y="3805.1" width="38" height="38" fill="#000000" stroke="#000000" stroke-width="6"/>
<rect x="1734.6" y="3829.8" width="38" height="38" fill="#000000" stroke="#000000" stroke-width="6"/>
<rect x="2204.1" y="3848.5" width="38" height="38" fill="#000000" stroke="#000000" stroke-width="6"/>
<path fill="none" stroke="#000" stroke-width="6.5" stroke-linecap="butt" d="M571.3 3145.8 V3208.5 M551.8 3145.8 h39 M551.8 3208.5 h39"/>
<path fill="none" stroke="#000" stroke-width="6.5" stroke-linecap="butt" d="M808.5 3070.6 V3113.0 M789.0 3070.6 h39 M789.0 3113.0 h39"/>
<path fill="none" stroke="#000" stroke-width="6.5" stroke-linecap="butt" d="M1040.5 3029.1 V3052.6 M1021.0 3029.1 h39 M1021.0 3052.6 h39"/>
<path fill="none" stroke="#000" stroke-width="6.5" stroke-linecap="butt" d="M1278.3 2984.0 V3011.4 M1258.8 2984.0 h39 M1258.8 3011.4 h39"/>
<path fill="none" stroke="#000" stroke-width="6.5" stroke-linecap="butt" d="M1516.2 2899.3 V2956.9 M1496.7 2899.3 h39 M1496.7 2956.9 h39"/>
<path fill="none" stroke="#000" stroke-width="6.5" stroke-linecap="butt" d="M1753.6 2884.0 V2946.7 M1734.1 2884.0 h39 M1734.1 2946.7 h39"/>
<path fill="none" stroke="#ff0000" stroke-width="19" d="M333.5 3973.9 L389.3 3529.1 L452.5 3297.7 L571.3 3177.1 L689.7 3141.8 L808.5 3091.8 L1040.5 3040.8 L1278.3 2997.7 L1516.2 2928.1 L1753.6 2915.3 L2223.1 2810.0"/>
<rect x="314.5" y="3954.9" width="38" height="38" fill="#ff0000" stroke="#ff0000" stroke-width="6"/>
<rect x="370.3" y="3510.1" width="38" height="38" fill="#ff0000" stroke="#ff0000" stroke-width="6"/>
<rect x="433.5" y="3278.7" width="38" height="38" fill="#ff0000" stroke="#ff0000" stroke-width="6"/>
<rect x="552.3" y="3158.1" width="38" height="38" fill="#ff0000" stroke="#ff0000" stroke-width="6"/>
<rect x="670.7" y="3122.8" width="38" height="38" fill="#ff0000" stroke="#ff0000" stroke-width="6"/>
<rect x="789.5" y="3072.8" width="38" height="38" fill="#ff0000" stroke="#ff0000" stroke-width="6"/>
<rect x="1021.5" y="3021.8" width="38" height="38" fill="#ff0000" stroke="#ff0000" stroke-width="6"/>
<rect x="1259.3" y="2978.7" width="38" height="38" fill="#ff0000" stroke="#ff0000" stroke-width="6"/>
<rect x="1497.2" y="2909.1" width="38" height="38" fill="#ff0000" stroke="#ff0000" stroke-width="6"/>
<rect x="1734.6" y="2896.3" width="38" height="38" fill="#ff0000" stroke="#ff0000" stroke-width="6"/>
<rect x="2204.1" y="2791.0" width="38" height="38" fill="#ff0000" stroke="#ff0000" stroke-width="6"/>
<path fill="none" stroke="#000000" stroke-width="19" stroke-dasharray="37.6 37.7" d="M333.5 3973.9 L389.3 3855.2 L452.5 3817.6 L571.3 3786.6 L689.7 3785.8 L808.5 3790.3 L1040.5 3802.7 L1278.3 3815.4 L1516.2 3821.3 L1753.6 3844.9 L2223.1 3866.4"/>
<rect x="314.5" y="3954.9" width="38" height="38" fill="#000000" stroke="#000000" stroke-width="6"/>
<rect x="370.3" y="3836.2" width="38" height="38" fill="#000000" stroke="#000000" stroke-width="6"/>
<rect x="433.5" y="3798.6" width="38" height="38" fill="#000000" stroke="#000000" stroke-width="6"/>
<rect x="552.3" y="3767.6" width="38" height="38" fill="#000000" stroke="#000000" stroke-width="6"/>
<rect x="670.7" y="3766.8" width="38" height="38" fill="#000000" stroke="#000000" stroke-width="6"/>
<rect x="789.5" y="3771.3" width="38" height="38" fill="#000000" stroke="#000000" stroke-width="6"/>
<rect x="1021.5" y="3783.7" width="38" height="38" fill="#000000" stroke="#000000" stroke-width="6"/>
<rect x="1259.3" y="3796.4" width="38" height="38" fill="#000000" stroke="#000000" stroke-width="6"/>
<rect x="1497.2" y="3802.3" width="38" height="38" fill="#000000" stroke="#000000" stroke-width="6"/>
<rect x="1734.6" y="3825.9" width="38" height="38" fill="#000000" stroke="#000000" stroke-width="6"/>
<rect x="2204.1" y="3847.4" width="38" height="38" fill="#000000" stroke="#000000" stroke-width="6"/>
<path fill="none" stroke="#000" stroke-width="6.5" stroke-linecap="butt" d="M1040.5 3427.2 V3447.7 M1021.0 3427.2 h39"/>
<path fill="none" stroke="#ff0000" stroke-width="19" stroke-dasharray="37.6 37.7" d="M333.5 3973.9 L389.3 3958.6 L452.5 3885.4 L571.3 3667.6 L689.7 3590.7 L808.5 3498.3 L1040.5 3447.7 L1278.3 3423.2 L1516.2 3391.9 L1753.6 3440.9 L2223.1 3373.2"/>
<rect x="314.5" y="3954.9" width="38" height="38" fill="#ff0000" stroke="#ff0000" stroke-width="6"/>
<rect x="370.3" y="3939.6" width="38" height="38" fill="#ff0000" stroke="#ff0000" stroke-width="6"/>
<rect x="433.5" y="3866.4" width="38" height="38" fill="#ff0000" stroke="#ff0000" stroke-width="6"/>
<rect x="552.3" y="3648.6" width="38" height="38" fill="#ff0000" stroke="#ff0000" stroke-width="6"/>
<rect x="670.7" y="3571.7" width="38" height="38" fill="#ff0000" stroke="#ff0000" stroke-width="6"/>
<rect x="789.5" y="3479.3" width="38" height="38" fill="#ff0000" stroke="#ff0000" stroke-width="6"/>
<rect x="1021.5" y="3428.7" width="38" height="38" fill="#ff0000" stroke="#ff0000" stroke-width="6"/>
<rect x="1259.3" y="3404.2" width="38" height="38" fill="#ff0000" stroke="#ff0000" stroke-width="6"/>
<rect x="1497.2" y="3372.9" width="38" height="38" fill="#ff0000" stroke="#ff0000" stroke-width="6"/>
<rect x="1734.6" y="3421.9" width="38" height="38" fill="#ff0000" stroke="#ff0000" stroke-width="6"/>
<rect x="2204.1" y="3354.2" width="38" height="38" fill="#ff0000" stroke="#ff0000" stroke-width="6"/>
<path fill="none" stroke="#000" stroke-width="6.5" stroke-linecap="butt" d="M1040.5 3513.9 V3595.3 M1021.0 3513.9 h39 M1021.0 3595.3 h39"/>
<path fill="none" stroke="#000" stroke-width="6.5" stroke-linecap="butt" d="M1516.2 3479.5 V3528.5 M1496.7 3479.5 h39 M1496.7 3528.5 h39"/>
<path fill="none" stroke="#0000ff" stroke-width="19" d="M333.5 3973.9 L389.3 3817.6 L452.5 3679.5 L571.3 3591.7 L689.7 3559.9 L808.5 3523.1 L1040.5 3554.6 L1278.3 3529.3 L1516.2 3504.0 L1753.6 3554.6 L2223.1 3535.2"/>
<rect x="314.5" y="3954.9" width="38" height="38" fill="#0000ff" stroke="#0000ff" stroke-width="6"/>
<rect x="370.3" y="3798.6" width="38" height="38" fill="#0000ff" stroke="#0000ff" stroke-width="6"/>
<rect x="433.5" y="3660.5" width="38" height="38" fill="#0000ff" stroke="#0000ff" stroke-width="6"/>
<rect x="552.3" y="3572.7" width="38" height="38" fill="#0000ff" stroke="#0000ff" stroke-width="6"/>
<rect x="670.7" y="3540.9" width="38" height="38" fill="#0000ff" stroke="#0000ff" stroke-width="6"/>
<rect x="789.5" y="3504.1" width="38" height="38" fill="#0000ff" stroke="#0000ff" stroke-width="6"/>
<rect x="1021.5" y="3535.6" width="38" height="38" fill="#0000ff" stroke="#0000ff" stroke-width="6"/>
<rect x="1259.3" y="3510.3" width="38" height="38" fill="#0000ff" stroke="#0000ff" stroke-width="6"/>
<rect x="1497.2" y="3485.0" width="38" height="38" fill="#0000ff" stroke="#0000ff" stroke-width="6"/>
<rect x="1734.6" y="3535.6" width="38" height="38" fill="#0000ff" stroke="#0000ff" stroke-width="6"/>
<rect x="2204.1" y="3516.2" width="38" height="38" fill="#0000ff" stroke="#0000ff" stroke-width="6"/>
<path fill="none" stroke="#000" stroke-width="6.5" stroke-linecap="butt" d="M689.7 3922.5 V3965.6 M670.2 3922.5 h39 M670.2 3965.6 h39"/>
<path fill="none" stroke="#000" stroke-width="6.5" stroke-linecap="butt" d="M808.5 3922.5 V3965.6 M789.0 3922.5 h39 M789.0 3965.6 h39"/>
<path fill="none" stroke="#3b5524" stroke-width="19" stroke-dasharray="0 37.6" d="M333.5 3954.9 L389.3 3978.2 L452.5 3978.2 L571.3 3977.2 L689.7 3944.1 L808.5 3944.1 L1040.5 3950.7 L1278.3 3951.7 L1516.2 3954.7 L1753.6 3958.6 L2223.1 3959.8"/>
<rect x="314.5" y="3935.9" width="38" height="38" fill="#3b5524" stroke="#3b5524" stroke-width="6"/>
<rect x="370.3" y="3959.2" width="38" height="38" fill="#3b5524" stroke="#3b5524" stroke-width="6"/>
<rect x="433.5" y="3959.2" width="38" height="38" fill="#3b5524" stroke="#3b5524" stroke-width="6"/>
<rect x="552.3" y="3958.2" width="38" height="38" fill="#3b5524" stroke="#3b5524" stroke-width="6"/>
<rect x="670.7" y="3925.1" width="38" height="38" fill="#3b5524" stroke="#3b5524" stroke-width="6"/>
<rect x="789.5" y="3925.1" width="38" height="38" fill="#3b5524" stroke="#3b5524" stroke-width="6"/>
<rect x="1021.5" y="3931.7" width="38" height="38" fill="#3b5524" stroke="#3b5524" stroke-width="6"/>
<rect x="1259.3" y="3932.7" width="38" height="38" fill="#3b5524" stroke="#3b5524" stroke-width="6"/>
<rect x="1497.2" y="3935.7" width="38" height="38" fill="#3b5524" stroke="#3b5524" stroke-width="6"/>
<rect x="1734.6" y="3939.6" width="38" height="38" fill="#3b5524" stroke="#3b5524" stroke-width="6"/>
<rect x="2204.1" y="3940.8" width="38" height="38" fill="#3b5524" stroke="#3b5524" stroke-width="6"/>
<path fill="none" stroke="#000000" stroke-width="17" stroke-dasharray="0 37.6" d="M333.5 3973.9 L389.3 3979.4 L452.5 3979.4 L571.3 3979.4 L689.7 3979.4 L808.5 3979.4 L1040.5 3974.3 L1278.3 3974.3 L1516.2 3974.3 L1753.6 3974.3 L2223.1 3978.2"/>
<rect x="314.5" y="3954.9" width="38" height="38" fill="#000000" stroke="#000000" stroke-width="6"/>
<rect x="370.3" y="3960.4" width="38" height="38" fill="#000000" stroke="#000000" stroke-width="6"/>
<rect x="433.5" y="3960.4" width="38" height="38" fill="#000000" stroke="#000000" stroke-width="6"/>
<rect x="552.3" y="3960.4" width="38" height="38" fill="#000000" stroke="#000000" stroke-width="6"/>
<rect x="670.7" y="3960.4" width="38" height="38" fill="#000000" stroke="#000000" stroke-width="6"/>
<rect x="789.5" y="3960.4" width="38" height="38" fill="#000000" stroke="#000000" stroke-width="6"/>
<rect x="1021.5" y="3955.3" width="38" height="38" fill="#000000" stroke="#000000" stroke-width="6"/>
<rect x="1259.3" y="3955.3" width="38" height="38" fill="#000000" stroke="#000000" stroke-width="6"/>
<rect x="1497.2" y="3955.3" width="38" height="38" fill="#000000" stroke="#000000" stroke-width="6"/>
<rect x="1734.6" y="3955.3" width="38" height="38" fill="#000000" stroke="#000000" stroke-width="6"/>
<rect x="2204.1" y="3959.2" width="38" height="38" fill="#000000" stroke="#000000" stroke-width="6"/>
<path fill="none" stroke="#ff0000" stroke-width="19" stroke-dasharray="0 37.6" d="M333.5 3973.9 L389.3 3961.3 L452.5 3960.6 L571.3 3960.6 L689.7 3954.9 L808.5 3954.9 L1040.5 3948.8 L1278.3 3948.8 L1516.2 3954.9 L1753.6 3948.8 L2223.1 3955.1"/>
<rect x="314.5" y="3954.9" width="38" height="38" fill="#ff0000" stroke="#ff0000" stroke-width="6"/>
<rect x="370.3" y="3942.3" width="38" height="38" fill="#ff0000" stroke="#ff0000" stroke-width="6"/>
<rect x="433.5" y="3941.6" width="38" height="38" fill="#ff0000" stroke="#ff0000" stroke-width="6"/>
<rect x="552.3" y="3941.6" width="38" height="38" fill="#ff0000" stroke="#ff0000" stroke-width="6"/>
<rect x="670.7" y="3935.9" width="38" height="38" fill="#ff0000" stroke="#ff0000" stroke-width="6"/>
<rect x="789.5" y="3935.9" width="38" height="38" fill="#ff0000" stroke="#ff0000" stroke-width="6"/>
<rect x="1021.5" y="3929.8" width="38" height="38" fill="#ff0000" stroke="#ff0000" stroke-width="6"/>
<rect x="1259.3" y="3929.8" width="38" height="38" fill="#ff0000" stroke="#ff0000" stroke-width="6"/>
<rect x="1497.2" y="3935.9" width="38" height="38" fill="#ff0000" stroke="#ff0000" stroke-width="6"/>
<rect x="1734.6" y="3929.8" width="38" height="38" fill="#ff0000" stroke="#ff0000" stroke-width="6"/>
<rect x="2204.1" y="3936.1" width="38" height="38" fill="#ff0000" stroke="#ff0000" stroke-width="6"/>
<path fill="none" stroke="#0000ff" stroke-width="19" stroke-dasharray="0 37.6" d="M333.5 3973.9 L389.3 3973.9 L452.5 3967.8 L571.3 3967.0 L689.7 3961.3 L808.5 3961.3 L1040.5 3960.6 L1278.3 3967.8 L1516.2 3967.8 L1753.6 3980.0 L2223.1 3980.2"/>
<rect x="314.5" y="3954.9" width="38" height="38" fill="#0000ff" stroke="#0000ff" stroke-width="6"/>
<rect x="370.3" y="3954.9" width="38" height="38" fill="#0000ff" stroke="#0000ff" stroke-width="6"/>
<rect x="433.5" y="3948.8" width="38" height="38" fill="#0000ff" stroke="#0000ff" stroke-width="6"/>
<rect x="552.3" y="3948.0" width="38" height="38" fill="#0000ff" stroke="#0000ff" stroke-width="6"/>
<rect x="670.7" y="3942.3" width="38" height="38" fill="#0000ff" stroke="#0000ff" stroke-width="6"/>
<rect x="789.5" y="3942.3" width="38" height="38" fill="#0000ff" stroke="#0000ff" stroke-width="6"/>
<rect x="1021.5" y="3941.6" width="38" height="38" fill="#0000ff" stroke="#0000ff" stroke-width="6"/>
<rect x="1259.3" y="3948.8" width="38" height="38" fill="#0000ff" stroke="#0000ff" stroke-width="6"/>
<rect x="1497.2" y="3948.8" width="38" height="38" fill="#0000ff" stroke="#0000ff" stroke-width="6"/>
<rect x="1734.6" y="3961.0" width="38" height="38" fill="#0000ff" stroke="#0000ff" stroke-width="6"/>
<rect x="2204.1" y="3961.2" width="38" height="38" fill="#0000ff" stroke="#0000ff" stroke-width="6"/>
</g>
<text x="230.3" y="2436.5" font-size="80" text-anchor="middle" font-weight="bold" textLength="42.0" lengthAdjust="spacingAndGlyphs">8</text>
<text x="230.3" y="2829.3" font-size="80" text-anchor="middle" font-weight="bold" textLength="42.0" lengthAdjust="spacingAndGlyphs">6</text>
<text x="230.3" y="3221.6" font-size="80" text-anchor="middle" font-weight="bold" textLength="42.0" lengthAdjust="spacingAndGlyphs">4</text>
<text x="230.3" y="3613.6" font-size="80" text-anchor="middle" font-weight="bold" textLength="42.0" lengthAdjust="spacingAndGlyphs">2</text>
<text x="230.3" y="4007.0" font-size="80" text-anchor="middle" font-weight="bold" textLength="42.0" lengthAdjust="spacingAndGlyphs">0</text>
<text x="337.9" y="4129.5" font-size="80" text-anchor="middle" font-weight="bold" textLength="42.0" lengthAdjust="spacingAndGlyphs">0</text>
<text x="573.8" y="4129.5" font-size="80" text-anchor="middle" font-weight="bold" textLength="84.5" lengthAdjust="spacingAndGlyphs">24</text>
<text x="811.0" y="4129.5" font-size="80" text-anchor="middle" font-weight="bold" textLength="84.5" lengthAdjust="spacingAndGlyphs">48</text>
<text x="1047.8" y="4129.5" font-size="80" text-anchor="middle" font-weight="bold" textLength="84.5" lengthAdjust="spacingAndGlyphs">72</text>
<text x="1284.0" y="4129.5" font-size="80" text-anchor="middle" font-weight="bold" textLength="84.5" lengthAdjust="spacingAndGlyphs">96</text>
<text x="1520.0" y="4129.5" font-size="80" text-anchor="middle" font-weight="bold" textLength="124.0" lengthAdjust="spacingAndGlyphs">120</text>
<text x="1756.0" y="4129.5" font-size="80" text-anchor="middle" font-weight="bold" textLength="124.0" lengthAdjust="spacingAndGlyphs">144</text>
<text x="1991.5" y="4129.5" font-size="80" text-anchor="middle" font-weight="bold" textLength="124.0" lengthAdjust="spacingAndGlyphs">168</text>
<text x="2228.0" y="4129.5" font-size="80" text-anchor="middle" font-weight="bold" textLength="124.0" lengthAdjust="spacingAndGlyphs">192</text>
<text x="99.0" y="3183.6" font-size="85" text-anchor="middle" font-weight="bold" textLength="617.0" lengthAdjust="spacingAndGlyphs" transform="rotate(-90 99.0 3183.6)">Max absorbance</text>
<text x="1113.0" y="4295.0" font-size="85" text-anchor="middle" font-weight="bold" textLength="316.0" lengthAdjust="spacingAndGlyphs">Time (h)</text>
<text x="187.0" y="2223.2" font-size="106" text-anchor="start" textLength="112.0" lengthAdjust="spacingAndGlyphs">(b)</text>
<path fill="none" stroke="#000000" stroke-width="19.5" stroke-linecap="round" d="M396.4 2321.2 H603.4"/>
<rect x="476.1" y="2301.2" width="28.6" height="27.7" fill="#000000" stroke="#000000" stroke-width="4" stroke-linejoin="round"/>
<text x="635.8" y="2341.0" font-size="70" text-anchor="start" font-weight="bold" textLength="648.0" lengthAdjust="spacingAndGlyphs">EPS-0.15-1mM-180μE</text>
<path fill="none" stroke="#000000" stroke-width="19.5" stroke-linecap="round" stroke-dasharray="37.6 37.7" d="M396.4 2459 H603.4"/>
<rect x="476.1" y="2439.0" width="28.6" height="27.7" fill="#000000" stroke="#000000" stroke-width="4" stroke-linejoin="round"/>
<text x="635.8" y="2479.7" font-size="70" text-anchor="start" font-weight="bold" textLength="610.5" lengthAdjust="spacingAndGlyphs">EPS-0.15-1mM-70μE</text>
<path fill="none" stroke="#0000ff" stroke-width="19.5" stroke-linecap="round" d="M396.4 2597.2 H603.4"/>
<rect x="476.1" y="2577.2" width="28.6" height="27.7" fill="#0000ff" stroke="#0000ff" stroke-width="4" stroke-linejoin="round"/>
<text x="635.8" y="2618.4" font-size="70" text-anchor="start" font-weight="bold" textLength="648.0" lengthAdjust="spacingAndGlyphs">EPS-0.38-1mM-125μE</text>
<path fill="none" stroke="#000000" stroke-width="19.5" stroke-linecap="round" stroke-dasharray="0 37.8" d="M396.4 2739.3 H603.4"/>
<rect x="476.1" y="2719.3" width="28.6" height="27.7" fill="#000000" stroke="#000000" stroke-width="4" stroke-linejoin="round"/>
<text x="635.8" y="2759.1" font-size="70" text-anchor="start" font-weight="bold" textLength="654.0" lengthAdjust="spacingAndGlyphs">D-EPS-0.15-1mM-0μE</text>
<path fill="none" stroke="#0000ff" stroke-width="19.5" stroke-linecap="round" stroke-dasharray="0 37.8" d="M396.4 2877.8 H603.4"/>
<rect x="476.1" y="2857.8" width="28.6" height="27.7" fill="#0000ff" stroke="#0000ff" stroke-width="4" stroke-linejoin="round"/>
<text x="635.8" y="2898.3" font-size="70" text-anchor="start" font-weight="bold" textLength="654.0" lengthAdjust="spacingAndGlyphs">D-EPS-0.38-1mM-0μE</text>
<path fill="none" stroke="#ff0000" stroke-width="19.5" stroke-linecap="round" d="M1404.5 2321.2 H1611.5"/>
<rect x="1484.2" y="2301.2" width="28.6" height="27.7" fill="#ff0000" stroke="#ff0000" stroke-width="4" stroke-linejoin="round"/>
<text x="1643.0" y="2341.0" font-size="70" text-anchor="start" font-weight="bold" textLength="646.5" lengthAdjust="spacingAndGlyphs">EPS-0.60-1mM-180μE</text>
<path fill="none" stroke="#ff0000" stroke-width="19.5" stroke-linecap="round" stroke-dasharray="37.6 37.7" d="M1404.5 2459 H1611.5"/>
<rect x="1484.2" y="2439.0" width="28.6" height="27.7" fill="#ff0000" stroke="#ff0000" stroke-width="4" stroke-linejoin="round"/>
<text x="1643.0" y="2479.7" font-size="70" text-anchor="start" font-weight="bold" textLength="610.0" lengthAdjust="spacingAndGlyphs">EPS-0.60-1mM-70μE</text>
<path fill="none" stroke="#3b5524" stroke-width="19.5" stroke-linecap="round" stroke-dasharray="0 37.8" d="M1404.5 2597.2 H1611.5"/>
<rect x="1484.2" y="2577.2" width="28.6" height="27.7" fill="#3b5524" stroke="#3b5524" stroke-width="4" stroke-linejoin="round"/>
<text x="1643.0" y="2618.4" font-size="70" text-anchor="start" font-weight="bold" textLength="646.5" lengthAdjust="spacingAndGlyphs">EPS-0.60-0mM-180μE</text>
<path fill="none" stroke="#ff0000" stroke-width="19.5" stroke-linecap="round" stroke-dasharray="0 37.8" d="M1404.5 2739.3 H1611.5"/>
<rect x="1484.2" y="2719.3" width="28.6" height="27.7" fill="#ff0000" stroke="#ff0000" stroke-width="4" stroke-linejoin="round"/>
<text x="1643.0" y="2759.1" font-size="70" text-anchor="start" font-weight="bold" textLength="653.5" lengthAdjust="spacingAndGlyphs">D-EPS-0.60-1mM-0μE</text>
</svg>
</body></html>
